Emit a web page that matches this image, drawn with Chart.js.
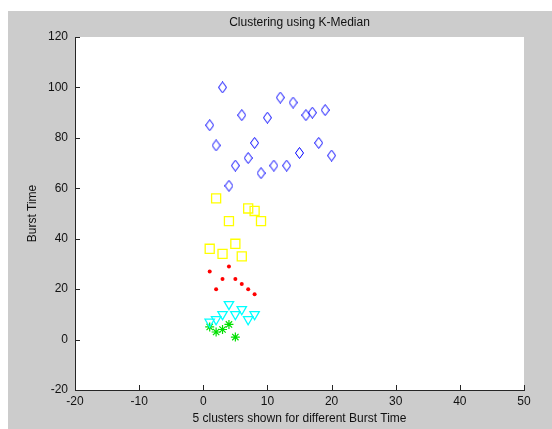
<!DOCTYPE html>
<html>
<head>
<meta charset="utf-8">
<script src="https://cdn.jsdelivr.net/npm/chart.js@4/dist/chart.umd.min.js"></script>
<style>
  html, body { margin: 0; padding: 0; background: #fff; }
  #wrap { position: absolute; left: 8px; top: 11px; width: 544px; height: 418px; background: #cccccc; }
</style>
</head>
<body>
<div id="wrap"><canvas id="chart" width="544" height="418"></canvas></div>
<script>
// cluster 1 (blue diamonds)
const c1x = [1, 2, 3, 4, 5, 6, 7, 8, 9, 10, 11, 12, 13, 14, 15, 16, 17, 18, 19, 20];
const c1y = [85, 77, 100, 61, 69, 89, 72, 78, 66, 88, 69, 96, 69, 94, 74, 89, 90, 78, 91, 73];
// cluster 2 (yellow squares)
const c2x = [1, 2, 3, 4, 5, 6, 7, 8, 9];
const c2y = [36, 56, 34, 47, 38, 33, 52, 51, 47];
// cluster 3 (red dots)
const c3x = [1, 2, 3, 4, 5, 6, 7, 8];
const c3y = [27, 20, 24, 29, 24, 22, 20, 18];
// cluster 4 (cyan triangles)
const c4x = [1, 2, 3, 4, 5, 6, 7, 8];
const c4y = [7, 8, 10, 14, 10, 12, 8, 10];
// cluster 5 (green stars)
const c5x = [1, 2, 3, 4, 5];
const c5y = [5, 3, 4, 6, 1];

const xTicks = [-20, -10, 0, 10, 20, 30, 40, 50];
const yTicks = [-20, 0, 20, 40, 60, 80, 100, 120];

const toPoints = (xs, ys) => xs.map((x, i) => ({ x: x, y: ys[i] }));

// tall diamond marker like matlab 'd'
function diamond(w, h, color) {
  const c = document.createElement('canvas');
  c.width = w;
  c.height = h;
  const g = c.getContext('2d');
  g.strokeStyle = color;
  g.lineWidth = 1;
  g.beginPath();
  g.moveTo(w / 2, 0.5);
  g.lineTo(w - 0.5, h / 2);
  g.lineTo(w / 2, h - 0.5);
  g.lineTo(0.5, h / 2);
  g.closePath();
  g.stroke();
  return c;
}

const FONT = { family: '"Liberation Sans", Arial, sans-serif', size: 12 };

// white axes box + inward ticks
const axesBox = {
  id: 'axesBox',
  beforeDraw(chart) {
    const a = chart.chartArea;
    const ctx = chart.ctx;
    ctx.save();
    ctx.fillStyle = '#ffffff';
    ctx.fillRect(a.left, a.top, a.right - a.left, a.bottom - a.top);
    ctx.restore();
  },
  afterDraw(chart) {
    const a = chart.chartArea;
    const ctx = chart.ctx;
    const xs = chart.scales.x, ys = chart.scales.y;
    ctx.save();
    ctx.strokeStyle = '#262626';
    ctx.lineWidth = 1;
    ctx.beginPath();
    xTicks.forEach(v => {
      const px = Math.round(xs.getPixelForValue(v)) + 0.5;
      ctx.moveTo(px, a.bottom);
      ctx.lineTo(px, a.bottom - 5);
    });
    yTicks.forEach(v => {
      const py = Math.round(ys.getPixelForValue(v)) + 0.5;
      ctx.moveTo(a.left, py);
      ctx.lineTo(a.left + 5, py);
    });
    ctx.stroke();
    ctx.restore();
  }
};

new Chart(document.getElementById('chart'), {
  type: 'scatter',
  data: {
    datasets: [
      {
        data: toPoints(c1x, c1y),
        pointStyle: diamond(9, 12, '#0000ff'),
        borderColor: '#0000ff'
      },
      {
        data: toPoints(c2x, c2y),
        pointStyle: 'rect',
        pointRadius: 6.4,
        borderColor: '#ffff00',
        backgroundColor: 'rgba(0,0,0,0)',
        borderWidth: 1.3
      },
      {
        data: toPoints(c3x, c3y),
        pointStyle: 'circle',
        pointRadius: 2,
        borderWidth: 0,
        backgroundColor: '#ff0000',
        borderColor: '#ff0000'
      },
      {
        data: toPoints(c4x, c4y),
        pointStyle: 'triangle',
        rotation: 180,
        pointRadius: 5.4,
        borderColor: '#00ffff',
        backgroundColor: 'rgba(0,0,0,0)',
        borderWidth: 1.3
      },
      {
        data: toPoints(c5x, c5y),
        pointStyle: 'star',
        pointRadius: 4.5,
        borderColor: '#00e000',
        backgroundColor: '#00e000',
        borderWidth: 1.2
      }
    ]
  },
  options: {
    responsive: false,
    animation: false,
    events: [],
    layout: { padding: { left: 0, right: 28, top: 0, bottom: 0 } },
    plugins: {
      legend: { display: false },
      tooltip: { enabled: false },
      title: {
        display: true,
        text: 'Clustering using K-Median',
        fullSize: false,
        color: '#111',
        font: { ...FONT, weight: 'normal' },
        padding: { top: 4, bottom: 7.6 }
      }
    },
    scales: {
      x: {
        type: 'linear',
        min: -20,
        max: 50,
        afterFit: s => { s.height = 39; },
        afterBuildTicks: s => { s.ticks = xTicks.map(v => ({ value: v })); },
        grid: { display: false, drawTicks: false },
        border: { display: true, color: '#262626', width: 1 },
        ticks: { color: '#111', font: FONT, padding: 4, maxRotation: 0 },
        title: {
          display: true,
          text: '5 clusters shown for different Burst Time',
          color: '#111',
          font: FONT,
          padding: { top: 0, bottom: 3 }
        }
      },
      y: {
        type: 'linear',
        min: -20,
        max: 120,
        afterFit: s => { s.width = 67; },
        afterBuildTicks: s => { s.ticks = yTicks.map(v => ({ value: v })); },
        grid: { display: false, drawTicks: false },
        border: { display: true, color: '#262626', width: 1 },
        ticks: { color: '#111', font: FONT, padding: 7 },
        title: {
          display: true,
          text: 'Burst Time',
          color: '#111',
          font: FONT,
          padding: { top: 17, bottom: 0 }
        }
      }
    }
  },
  plugins: [axesBox]
});
</script>
</body>
</html>
